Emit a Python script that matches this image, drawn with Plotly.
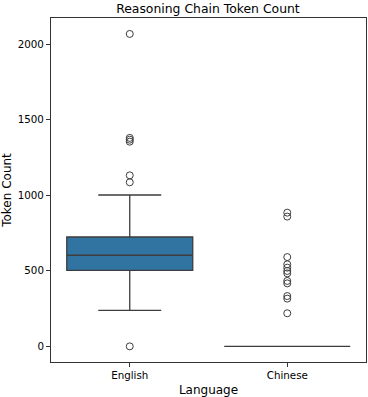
import plotly.graph_objects as go

categories = ["English", "Chinese"]
q1 = [503, 0]
median = [603, 0]
q3 = [724, 0]
lower_whisker = [238, 0]
upper_whisker = [1002, 0]

english_outliers = [2068, 1380, 1368, 1355, 1132, 1086, 0]
chinese_outliers = [885, 859, 591, 543, 521, 499, 483, 433, 417, 333, 316, 219]

line_color = "#3d3d3d"
box_color = "#3274a1"

fig = go.Figure()
fig.add_trace(go.Box(
    x=categories, q1=q1, median=median, q3=q3,
    lowerfence=lower_whisker, upperfence=upper_whisker,
    boxpoints=False, width=0.8, whiskerwidth=0.5,
    fillcolor=box_color, line=dict(color=line_color, width=1.3),
    showlegend=False,
))

out_x = ["English"] * len(english_outliers) + ["Chinese"] * len(chinese_outliers)
out_y = english_outliers + chinese_outliers
fig.add_trace(go.Scatter(
    x=out_x, y=out_y, mode="markers",
    marker=dict(symbol="circle-open", size=7, color=line_color, line=dict(width=1)),
    showlegend=False,
))

fig.update_layout(
    width=368, height=397,
    margin=dict(l=51, r=2, t=18, b=35),
    paper_bgcolor="white", plot_bgcolor="white",
    font=dict(family="DejaVu Sans", size=10.3, color="black"),
    title=dict(text="Reasoning Chain Token Count", x=0.565, xanchor="center",
               yref="container", y=0.979, yanchor="middle",
               font=dict(size=12.4)),
    xaxis=dict(title=dict(text="Language", standoff=5), type="category", range=[-0.5, 1.5],
               automargin=False,
               showline=True, mirror=True, linecolor="#333", linewidth=1,
               ticks="outside", ticklen=4, tickcolor="#333", showgrid=False),
    yaxis=dict(title=dict(text="Token Count", standoff=6), range=[-103.5, 2173.5],
               automargin=False,
               tickvals=[0, 500, 1000, 1500, 2000],
               showline=True, mirror=True, linecolor="#333", linewidth=1,
               ticks="outside", ticklen=4, tickcolor="#333", showgrid=False, zeroline=False),
)

fig.write_html("out.html", config={"displayModeBar": False},
               post_script="document.body.style.margin='0';document.body.style.overflow='hidden';")
